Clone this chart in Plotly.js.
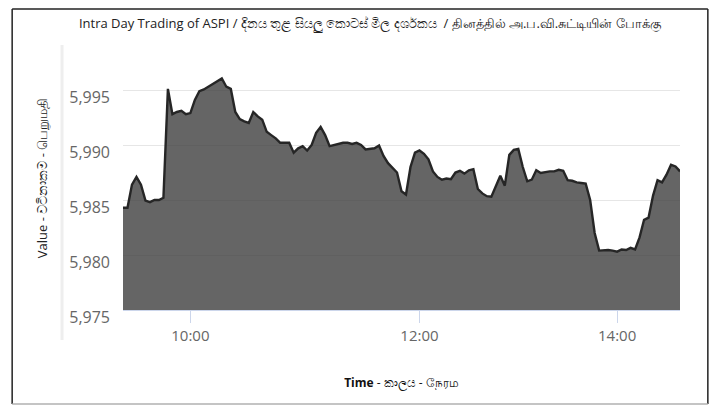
<!DOCTYPE html>
<html>
<head>
<meta charset="utf-8">
<script src="https://cdn.plot.ly/plotly-3.0.1.min.js"></script>
<style>
  html, body { margin: 0; padding: 0; background: #fff; }
  #chart { width: 718px; height: 406px; }
</style>
</head>
<body>
<div id="chart"></div>
<script>
// ---- data ----
const times = [
  "09:30","09:32","09:34","09:36","09:38","09:40","09:42","09:44","09:46","09:48",
  "09:50","09:52","09:54","09:56","09:58","10:00","10:02","10:04","10:07","10:09",
  "10:11","10:14","10:16","10:18","10:21","10:23","10:25","10:28","10:30","10:32",
  "10:35","10:37","10:39","10:42","10:44","10:46","10:49","10:51","10:53","10:56",
  "10:58","11:00","11:03","11:05","11:07","11:10","11:12","11:14","11:17","11:19",
  "11:21","11:24","11:26","11:28","11:31","11:33","11:35","11:38","11:40","11:42",
  "11:45","11:47","11:49","11:52","11:54","11:57","12:00","12:03","12:06","12:08",
  "12:11","12:14","12:17","12:19","12:22","12:25","12:28","12:30","12:33","12:36",
  "12:39","12:41","12:44","12:47","12:50","12:52","12:55","12:58","13:01","13:03",
  "13:06","13:09","13:12","13:14","13:17","13:20","13:23","13:25","13:28","13:31",
  "13:34","13:36","13:39","13:42","13:45","13:47","13:50","13:52","13:54","13:57",
  "14:00","14:02","14:04","14:06","14:08","14:10","14:12","14:15","14:17","14:19",
  "14:21","14:23","14:25","14:27","14:30"
];
const aspiValues = [
  5984.3, 5984.3, 5986.4, 5987.1, 5986.4, 5984.95, 5984.8, 5985.0, 5985.0, 5985.2,
  5995.1, 5992.8, 5993.0, 5993.1, 5992.8, 5992.9, 5994.1, 5994.9, 5995.05, 5995.3,
  5995.55, 5995.85, 5996.05, 5995.3, 5995.1, 5993.0, 5992.35, 5992.15, 5992.0, 5993.0,
  5992.6, 5992.3, 5991.2, 5990.9, 5990.6, 5990.2, 5990.2, 5990.2, 5989.3, 5989.7,
  5989.9, 5989.5, 5990.0, 5991.1, 5991.65, 5990.9, 5989.9, 5990.0, 5990.05, 5990.2,
  5990.2, 5990.1, 5990.2, 5990.0, 5989.6, 5989.65, 5989.7, 5989.95, 5989.0, 5988.35,
  5987.9, 5987.5, 5985.8, 5985.5, 5988.0, 5989.3, 5989.5, 5989.2, 5988.7, 5987.6,
  5987.1, 5986.85, 5986.95, 5986.9, 5987.5, 5987.65, 5987.4, 5987.7, 5987.8, 5986.0,
  5985.6, 5985.35, 5985.3, 5986.2, 5987.2, 5986.3, 5989.1, 5989.55, 5989.65, 5988.0,
  5986.7, 5986.85, 5987.7, 5987.45, 5987.55, 5987.6, 5987.6, 5987.75, 5987.65, 5986.8,
  5986.75, 5986.6, 5986.55, 5986.5, 5985.0, 5982.0, 5980.4, 5980.45, 5980.45, 5980.4,
  5980.3, 5980.5, 5980.45, 5980.65, 5980.5, 5981.6, 5983.2, 5983.4, 5985.4, 5986.8,
  5986.6, 5987.3, 5988.2, 5988.05, 5987.6
];
const xTickLabels = ["10:00", "12:00", "14:00"];
const yTickValues = [5975, 5980, 5985, 5990, 5995];
const yRange = [5975, 5999];

const titleText = "Intra Day Trading of ASPI / දිනය තුළ සියලු කොටස් මිල දර්ශකය  / தினத்தில் அ.ப.வி.சுட்டியின் போக்கு";
const xTitleText = "<b>Time</b> - කාලය - நேரம";
const yTitleText = "Value - වටිනාකම - பெறுமதி";

// ---- chart ----
const FONT = "'Open Sans', 'Noto Sans', 'DejaVu Sans', sans-serif";

const trace = {
  type: "scatter",
  mode: "lines",
  x: times,
  y: aspiValues,
  fill: "tozeroy",
  fillcolor: "rgba(62,62,62,0.8)",
  line: { color: "#262626", width: 2.4, shape: "linear" },
  hoverinfo: "x+y"
};

// frame & decoration shapes (paper coordinates)
const shapes = [
  { type: "line", xref: "paper", yref: "paper", x0: -0.199, x1: -0.199, y0: -0.356, y1: 1.14, line: { color: "#222", width: 1.5 } },
  { type: "line", xref: "paper", yref: "paper", x0: -0.199, x1: 1.05, y0: 1.14, y1: 1.14, line: { color: "#222", width: 1.5 } },
  { type: "line", xref: "paper", yref: "paper", x0: 1.05, x1: 1.05, y0: -0.356, y1: 1.14, line: { color: "#222", width: 1.5 } },
  { type: "line", xref: "paper", yref: "paper", x0: -0.199, x1: 1.05, y0: -0.356, y1: -0.356, line: { color: "#b0b0b0", width: 1.5 } },
  { type: "line", xref: "paper", yref: "paper", x0: -0.1095, x1: -0.1095, y0: -0.114, y1: 1.004, line: { color: "#eeeeee", width: 3 } }
];

const layout = {
  width: 718,
  height: 406,
  margin: { l: 123, r: 38, t: 46, b: 96, pad: 0 },
  paper_bgcolor: "#ffffff",
  plot_bgcolor: "#ffffff",
  showlegend: false,
  font: { family: FONT, color: "#333" },
  title: {
    text: titleText,
    x: 0.515,
    xanchor: "center",
    y: 0.943,
    yanchor: "middle",
    font: { family: FONT, size: 13, color: "#222" }
  },
  xaxis: {
    type: "category",
    range: [0, times.length - 1],
    tickmode: "array",
    tickvals: xTickLabels,
    ticktext: xTickLabels,
    ticks: "outside",
    ticklen: 12,
    tickcolor: "#ccd6eb",
    tickwidth: 1,
    showline: true,
    linecolor: "#ccd6eb",
    linewidth: 1,
    showgrid: false,
    zeroline: false,
    tickfont: { family: FONT, size: 15, color: "#666" },
    title: {
      text: xTitleText,
      standoff: 34,
      font: { family: FONT, size: 12, color: "#111" }
    },
    automargin: false,
    fixedrange: true
  },
  yaxis: {
    range: yRange,
    tickmode: "array",
    tickvals: yTickValues,
    ticktext: yTickValues.map(v => v.toLocaleString("en-US")),
    showgrid: true,
    gridcolor: "#e6e6e6",
    gridwidth: 1,
    zeroline: false,
    showline: false,
    ticks: "",
    ticklabelshift: 7,
    ticklabelstandoff: 12,
    tickfont: { family: FONT, size: 16, color: "#666" },
    title: {
      text: yTitleText,
      standoff: 18,
      font: { family: FONT, size: 13, color: "#222" }
    },
    automargin: false,
    fixedrange: true
  },
  shapes: shapes
};

Plotly.newPlot("chart", [trace], layout, { displayModeBar: false, staticPlot: true });
</script>
</body>
</html>
